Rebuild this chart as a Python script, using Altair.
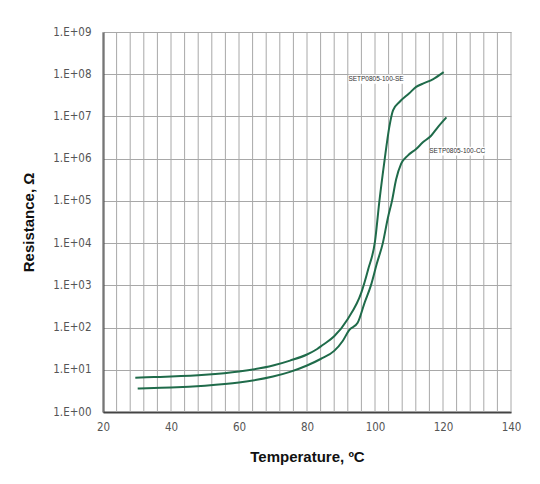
import pandas as pd
import altair as alt

# SETP0805-100-SE curve (temperature in C, resistance in ohm)
se_temp = [29.5, 35, 40, 50, 60, 70, 75, 80, 83, 84.5, 88, 92, 96, 98, 100,
           101.3, 102.8, 104.2, 105.3, 107.2, 110, 112.1, 114.1, 117, 120.2]
se_res = [6.5, 6.7, 6.9, 7.6, 9.1, 12.6, 16.5, 23, 31, 38, 62, 160, 680, 2400, 1.1e4,
          1.0e5, 9.0e5, 5.6e6, 1.4e7, 2.2e7, 3.5e7, 5.0e7, 6.0e7, 7.6e7, 1.12e8]

# SETP0805-100-CC curve
cc_temp = [30.2, 35, 40, 50, 60, 70, 75, 80, 84, 88, 90.5, 92.4, 94.9, 97, 98.8,
           100.5, 102.3, 103.8, 105, 106.2, 107.7, 109.7, 112.1, 114, 116.5, 118.5, 121]
cc_res = [3.6, 3.7, 3.8, 4.2, 5.0, 6.9, 8.9, 12.6, 18, 28, 48, 87, 130, 400, 1000,
          3200, 1.0e4, 4.0e4, 1.0e5, 3.2e5, 7.6e5, 1.2e6, 1.7e6, 2.4e6, 3.5e6, 5.6e6, 9.5e6]

# curve labels
label_text = ["SETP0805-100-SE", "SETP0805-100-CC"]
label_temp = [100.3, 124.2]
label_res = [7.6e7, 1.5e6]

x_ticks = [20, 40, 60, 80, 100, 120, 140]
x_grid = [20, 24, 28, 32, 36, 40, 44, 48, 52, 56, 60, 64, 68, 72, 76, 80, 84, 88,
          92, 96, 100, 104, 108, 112, 116, 120, 124, 128, 132, 136, 140]
y_ticks = [1, 1e1, 1e2, 1e3, 1e4, 1e5, 1e6, 1e7, 1e8, 1e9]

curves = pd.concat([
    pd.DataFrame({"T": se_temp, "R": se_res, "series": "SE"}),
    pd.DataFrame({"T": cc_temp, "R": cc_res, "series": "CC"}),
])
labels = pd.DataFrame({"T": label_temp, "R": label_res, "text": label_text})
grid = pd.DataFrame({"T": x_grid})

tick_font = "DejaVu Sans Condensed, sans-serif"

x = alt.X("T:Q", scale=alt.Scale(domain=[20, 140], nice=False),
          axis=alt.Axis(values=x_ticks, ticks=False, grid=False, labelPadding=9,
                        labelFlush=False, title="Temperature, ºC", titlePadding=17))
y = alt.Y("R:Q", scale=alt.Scale(type="log", domain=[1, 1e9], nice=False),
          axis=alt.Axis(values=y_ticks, ticks=False, grid=True, labelPadding=12,
                        labelFlush=False,
                        labelExpr="'1.E+' + (round(log(datum.value)/LN10) < 10 ? '0' : '') + round(log(datum.value)/LN10)",
                        title="Resistance, Ω", titlePadding=16))

vgrid = alt.Chart(grid).mark_rule(color="#a8a8a8", strokeWidth=1).encode(x=x)

lines = alt.Chart(curves).mark_line(color="#1f6b4a", strokeWidth=2, interpolate="monotone").encode(
    x=x, y=y, detail="series:N"
)

boxes = alt.Chart(labels).mark_point(
    shape="M-1,-0.16L1,-0.16L1,0.16L-1,0.16Z", filled=True, color="white", opacity=1, size=3000
).encode(x=x, y=y)

texts = alt.Chart(labels).mark_text(
    fontSize=6.5, font="Liberation Sans, Arial, sans-serif", color="#333"
).encode(x=x, y=y, text="text:N")

chart = (
    alt.layer(vgrid, lines, boxes, texts)
    .properties(width=408, height=380,
                autosize=alt.AutoSizeParams(type="none"),
                padding={"left": 95, "top": 24, "right": 20, "bottom": 68})
    .configure_view(stroke=None)
    .configure_axis(
        gridColor="#a8a8a8", gridWidth=1,
        domainColor="#444", domainWidth=2,
        labelFont=tick_font, labelFontSize=11.5, labelColor="#555",
        titleFont="Liberation Sans, Arial, sans-serif", titleFontSize=15,
        titleFontWeight="bold", titleColor="#111",
    )
    .configure_axisY(labelAlign="right")
)

chart.save("out.html", embed_options={"renderer": "svg", "actions": False})
